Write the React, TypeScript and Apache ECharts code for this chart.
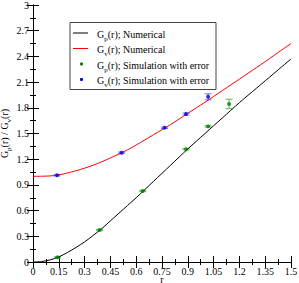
import React, { useEffect, useRef } from "react";
import * as echarts from "echarts";

const rGrid = [0, 0.05, 0.1, 0.15, 0.2, 0.25, 0.3, 0.35, 0.4, 0.45, 0.5, 0.55, 0.6, 0.65, 0.7, 0.8, 0.9, 1.0, 1.1, 1.2, 1.3, 1.4, 1.5];
const gpNumerical = [0, 0.005, 0.025, 0.06, 0.11, 0.17, 0.235, 0.31, 0.39, 0.48, 0.57, 0.66, 0.75, 0.845, 0.94, 1.13, 1.32, 1.5, 1.68, 1.86, 2.03, 2.2, 2.37];
const gvNumerical = [1.0, 1.001, 1.005, 1.015, 1.04, 1.065, 1.095, 1.13, 1.17, 1.215, 1.26, 1.31, 1.365, 1.425, 1.485, 1.605, 1.735, 1.865, 2.0, 2.135, 2.27, 2.41, 2.55];

const gpSimR = [0.143, 0.387, 0.638, 0.89, 1.018, 1.14];
const gpSimVal = [0.055, 0.373, 0.829, 1.317, 1.583, 1.845];
const gpSimErr = [0.008, 0.008, 0.008, 0.008, 0.008, 0.055];

const gvSimR = [0.14, 0.515, 0.765, 0.89, 1.018];
const gvSimVal = [1.012, 1.276, 1.567, 1.727, 1.928];
const gvSimErr = [0.008, 0.008, 0.008, 0.012, 0.035];

const xTickLabels = ["0", "0.15", "0.3", "0.45", "0.6", "0.75", "0.9", "1.05", "1.2", "1.35", "1.5"];
const yTickLabels = ["0", "0.3", "0.6", "0.9", "1.2", "1.5", "1.8", "2.1", "2.4", "2.7", "3"];

const legendNames = ["Numerical", "Numerical", "Simulation with error", "Simulation with error"];
const legendSubs = ["p", "v", "p", "v"];

const FONT = "'Liberation Serif', 'DejaVu Serif', serif";

const richStyles = {
  m: { fontSize: 10, fontFamily: FONT, color: "#000", lineHeight: 16, verticalAlign: "middle" },
  s: { fontSize: 7, fontFamily: FONT, color: "#000", lineHeight: 16, verticalAlign: "bottom" },
};

function errRender(color: string) {
  return (params: any, api: any) => {
    const x = api.value(0);
    const y = api.value(1);
    const e = api.value(2);
    const top = api.coord([x, y + e]);
    const bot = api.coord([x, y - e]);
    const hw = 3.5;
    const st = { stroke: color, lineWidth: 1 };
    return {
      type: "group",
      children: [
        { type: "line", shape: { x1: top[0], y1: top[1], x2: bot[0], y2: bot[1] }, style: st },
        { type: "line", shape: { x1: top[0] - hw, y1: top[1], x2: top[0] + hw, y2: top[1] }, style: st },
        { type: "line", shape: { x1: bot[0] - hw, y1: bot[1], x2: bot[0] + hw, y2: bot[1] }, style: st },
      ],
    };
  };
}

export default function App() {
  const ref = useRef<HTMLDivElement>(null);
  useEffect(() => {
    if (!ref.current) return;
    const chart = echarts.init(ref.current, null, { renderer: "svg" });

    const axisCommon = {
      min: 0,
      axisLine: { show: true, lineStyle: { color: "#000", width: 1 } },
      axisTick: { show: true, inside: true, length: 6, lineStyle: { color: "#000", width: 1 } },
      minorTick: { show: true, splitNumber: 2, length: 3, lineStyle: { color: "#000", width: 1 } },
      splitLine: { show: false },
    };

    const legendX = 70, legendY = 22.5, legendW = 146, legendH = 67;
    const rowsY = [33, 48.5, 64, 79.5];
    const legendColors = ["#000000", "#ff0000", "#008000", "#0000ee"];
    const graphic: any[] = [
      { type: "rect", shape: { x: legendX, y: legendY, width: legendW, height: legendH }, style: { fill: "#fff", stroke: "#444", lineWidth: 1 }, z: 10 },
    ];
    rowsY.forEach((yy, i) => {
      if (i < 2) {
        graphic.push({ type: "line", shape: { x1: 73, y1: yy, x2: 88, y2: yy }, style: { stroke: legendColors[i], lineWidth: 1 }, z: 11 });
      } else {
        graphic.push({ type: "circle", shape: { cx: 81.5, cy: yy, r: 1.6 }, style: { fill: legendColors[i] }, z: 11 });
      }
      graphic.push({
        type: "text",
        x: 97,
        y: yy + 1,
        z: 11,
        style: {
          text: `{m|G}{s|${legendSubs[i]}}{m|(r); ${legendNames[i]}}`,
          rich: richStyles,
          verticalAlign: "middle",
          align: "left",
        },
      });
    });

    chart.setOption({
      animation: false,
      backgroundColor: "#fff",
      grid: { left: 33, right: 8, top: 5, bottom: 21, containLabel: false, outerBoundsMode: "none" },
      xAxis: [
        {
          ...axisCommon,
          type: "value",
          max: 1.5,
          interval: 0.15,
          position: "bottom",
          name: "r",
          nameLocation: "middle",
          nameGap: 14,
          nameMoveOverlap: false,
          nameTextStyle: { fontFamily: FONT, fontSize: 10, lineHeight: 7, color: "#000" },
          axisLabel: {
            margin: 4,
            fontFamily: FONT,
            fontSize: 10,
            lineHeight: 10,
            color: "#000",
            formatter: (v: number) => xTickLabels[Math.round(v / 0.15)] ?? "",
          },
        },
        {
          ...axisCommon,
          type: "value",
          max: 1.5,
          interval: 0.15,
          position: "top",
          axisLabel: { show: false },
        },
      ],
      yAxis: [
        {
          ...axisCommon,
          type: "value",
          max: 3,
          interval: 0.3,
          position: "left",
          name: "{m|G}{s|p}{m|(r) / G}{s|v}{m|(r)}",
          nameLocation: "middle",
          nameRotate: 90,
          nameGap: 21,
          nameMoveOverlap: false,
          nameTextStyle: { rich: richStyles },
          axisLabel: {
            margin: 4,
            fontFamily: FONT,
            fontSize: 10,
            color: "#000",
            formatter: (v: number) => yTickLabels[Math.round(v / 0.3)] ?? "",
          },
        },
        {
          ...axisCommon,
          type: "value",
          max: 3,
          interval: 0.3,
          position: "right",
          axisLabel: { show: false },
        },
      ],
      graphic,
      series: [
        {
          name: "Gp numerical",
          type: "line",
          data: rGrid.map((r, i) => [r, gpNumerical[i]]),
          smooth: 0.3,
          symbol: "none",
          lineStyle: { color: "#000", width: 1 },
        },
        {
          name: "Gv numerical",
          type: "line",
          data: rGrid.map((r, i) => [r, gvNumerical[i]]),
          smooth: 0.3,
          symbol: "none",
          lineStyle: { color: "#ff0000", width: 1 },
        },
        {
          name: "Gp err",
          type: "custom",
          renderItem: errRender("#5cb85c"),
          data: gpSimR.map((r, i) => [r, gpSimVal[i], gpSimErr[i]]),
          encode: { x: 0, y: 1 },
          z: 3,
        },
        {
          name: "Gv err",
          type: "custom",
          renderItem: errRender("#7070ff"),
          data: gvSimR.map((r, i) => [r, gvSimVal[i], gvSimErr[i]]),
          encode: { x: 0, y: 1 },
          z: 3,
        },
        {
          name: "Gp simulation",
          type: "scatter",
          data: gpSimR.map((r, i) => [r, gpSimVal[i]]),
          symbolSize: 4,
          itemStyle: { color: "#008000" },
          z: 4,
        },
        {
          name: "Gv simulation",
          type: "scatter",
          data: gvSimR.map((r, i) => [r, gvSimVal[i]]),
          symbolSize: 4,
          itemStyle: { color: "#0000ee" },
          z: 4,
        },
      ],
    });
    return () => chart.dispose();
  }, []);
  return (
    <div
      ref={ref}
      style={{ position: "fixed", left: 0, top: 0, width: 299, height: 283, background: "#fff" }}
    />
  );
}
